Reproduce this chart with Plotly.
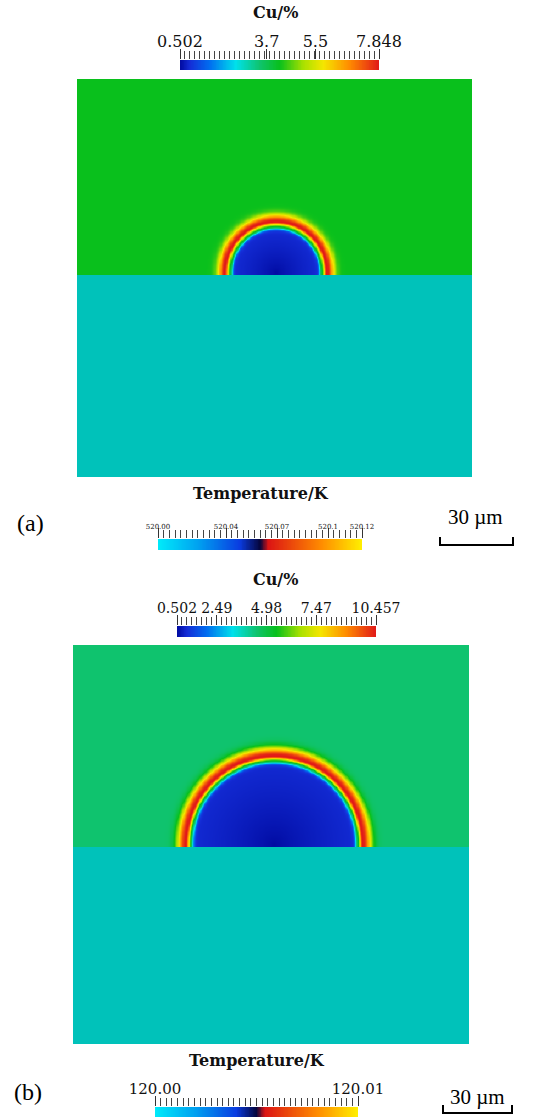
import numpy as np
import plotly.graph_objects as go

FIG_W, FIG_H = 547, 1117

# ------------------------------------------------------------------ data
panel_labels = ["(a)", "(b)"]

cu_title = "Cu/%"
temp_title = "Temperature/K"

cu_ticks_a = [0.502, 3.7, 5.5, 7.848]
cu_ticktext_a = ["0.502", "3.7", "5.5", "7.848"]
cu_ticks_b = [0.502, 2.49, 4.98, 7.47, 10.457]
cu_ticktext_b = ["0.502", "2.49", "4.98", "7.47", "10.457"]

temp_ticks_a = [520.00, 520.04, 520.07, 520.1, 520.12]
temp_ticktext_a = ["520.00", "520.04", "520.07", "520.1", "520.12"]
temp_ticks_b = [120.00, 120.01]
temp_ticktext_b = ["120.00", "120.01"]

# Cu concentration field (wt%) described per panel [a, b], lengths in µm
cu_min = [0.502, 0.502]
cu_max = [7.848, 10.457]
cu_matrix = [4.18, 4.48]
cu_core_rise = [0.35, 0.45]
domain_w = [162.3, 162.8]
domain_h = [163.6, 164.0]
interface_y = [83.0, 81.0]
centre_x = [81.6, 82.6]
centre_dy = [1.2, 1.2]
core_radius = [18.0, 33.3]
ring_radius = [21.0, 36.4]
ring_w_in = [1.3, 1.5]
ring_w_out = [2.9, 3.6]

scale_bar_text = "30 µm"

# ------------------------------------------------------------------ styles
cu_scale = [
    [0.00, "rgb(0,10,160)"],
    [0.05, "rgb(20,45,215)"],
    [0.15, "rgb(0,110,240)"],
    [0.28, "rgb(0,225,235)"],
    [0.40, "rgb(15,195,110)"],
    [0.50, "rgb(8,192,28)"],
    [0.62, "rgb(170,225,0)"],
    [0.72, "rgb(245,230,0)"],
    [0.85, "rgb(255,140,0)"],
    [1.00, "rgb(225,25,25)"],
]
temp_scale = [
    [0.00, "rgb(0,235,250)"],
    [0.20, "rgb(0,160,240)"],
    [0.40, "rgb(10,60,225)"],
    [0.50, "rgb(5,5,60)"],
    [0.54, "rgb(220,20,20)"],
    [0.80, "rgb(255,140,0)"],
    [1.00, "rgb(255,240,0)"],
]
teal = "rgb(0,194,186)"
SERIF = "DejaVu Serif"
TIMES = "Liberation Serif"


def px(xp):
    return xp / FIG_W


def py(yp):
    return 1 - yp / FIG_H


fig = go.Figure()


def cu_field(i):
    step = 0.5
    xs = np.arange(0, domain_w[i] + step, step)
    ys = np.arange(interface_y[i] - step, domain_h[i] + step, step)
    X, Y = np.meshgrid(xs, ys)
    r = np.hypot(X - centre_x[i], Y - (interface_y[i] + centre_dy[i]))
    lo, hi, bg = cu_min[i], cu_max[i], cu_matrix[i]
    core = lo + cu_core_rise[i] * np.clip(r / core_radius[i], 0, 1) ** 0.7
    sig = 1 / (1 + np.exp(-(r - core_radius[i]) / 0.35))
    base = core * (1 - sig) + bg * sig
    d = r - ring_radius[i]
    w = np.where(d < 0, ring_w_in[i], ring_w_out[i])
    z = base + (hi - bg) * np.exp(-((d / w) ** 2))
    z = np.clip(z, lo, hi)
    return xs, ys, np.round(z, 3)


# panel image axes (pixel boxes)
img_boxes = [(77, 472, 79, 477), (73, 469, 645, 1044)]
layout_axes = {}
for i in range(2):
    xs, ys, z = cu_field(i)
    xa = "x" if i == 0 else "x2"
    ya = "y" if i == 0 else "y2"
    fig.add_trace(go.Heatmap(x=xs, y=ys, z=z, colorscale=cu_scale, zmin=cu_min[i],
                             zmax=cu_max[i], zsmooth="best", showscale=False,
                             xaxis=xa, yaxis=ya, hoverinfo="skip"))
    x0, x1, y0, y1 = img_boxes[i]
    kx = "xaxis" if i == 0 else "xaxis2"
    ky = "yaxis" if i == 0 else "yaxis2"
    layout_axes[kx] = dict(domain=[px(x0), px(x1)], range=[0, domain_w[i]], visible=False,
                           anchor=ya, fixedrange=True)
    layout_axes[ky] = dict(domain=[py(y1), py(y0)], range=[0, domain_h[i]], visible=False,
                           anchor=xa, fixedrange=True)
    fig.add_shape(type="rect", xref=xa, yref=ya, x0=0, x1=domain_w[i], y0=0,
                  y1=interface_y[i], fillcolor=teal, line=dict(width=0), layer="above")

# colour bars: (lo, hi, ticks, text, scale, box, fontsize, n_minor)
bars = [
    (cu_min[0], cu_max[0], cu_ticks_a, cu_ticktext_a, cu_scale, (180, 379, 60, 70), 16, 40),
    (temp_ticks_a[0], temp_ticks_a[-1], temp_ticks_a, temp_ticktext_a, temp_scale,
     (158, 362, 539, 550), 7, 36),
    (cu_min[1], cu_max[1], cu_ticks_b, cu_ticktext_b, cu_scale, (177, 376, 626, 637), 14, 40),
    (temp_ticks_b[0], temp_ticks_b[-1], temp_ticks_b, temp_ticktext_b, temp_scale,
     (155, 358, 1107, 1117), 15, 36),
]
for k, (lo, hi, tv, tt, cs, box, fs, nmin) in enumerate(bars):
    n = k + 3
    xa, ya = f"x{n}", f"y{n}"
    vals = np.linspace(lo, hi, 256)
    fig.add_trace(go.Heatmap(x=vals, y=[0], z=[vals], colorscale=cs, zmin=lo, zmax=hi,
                             showscale=False, xaxis=xa, yaxis=ya, hoverinfo="skip"))
    x0, x1, y0, y1 = box
    layout_axes[f"xaxis{n}"] = dict(
        domain=[px(x0), px(x1)], range=[lo, hi], anchor=ya, side="top",
        showgrid=False, zeroline=False, showline=False, fixedrange=True,
        ticks="outside", ticklen=10, tickwidth=1, tickcolor="#333",
        tickmode="array", tickvals=tv, ticktext=tt, tickangle=0, automargin=False,
        tickfont=dict(family=SERIF, size=fs, color="#111"),
        ticklabelstandoff=-4,
        minor=dict(tickmode="array", tickvals=list(np.linspace(lo, hi, nmin + 1)),
                   ticklen=8, tickwidth=1, tickcolor="#444", ticks="outside",
                   showgrid=False),
    )
    layout_axes[f"yaxis{n}"] = dict(domain=[py(y1), py(y0)], range=[-0.5, 0.5],
                                    visible=False, anchor=xa, fixedrange=True)

fig.update_layout(width=FIG_W, height=FIG_H,
                  margin=dict(l=0, r=0, t=0, b=0, pad=0, autoexpand=False),
                  paper_bgcolor="white", plot_bgcolor="white", showlegend=False,
                  **layout_axes)

# titles
title_pos = [(cu_title, 275, 13), (temp_title, 261, 493),
             (cu_title, 275, 579), (temp_title, 257, 1060)]
for txt, xp, yp in title_pos:
    fig.add_annotation(text=f"<b>{txt}</b>", x=px(xp), y=py(yp), xref="paper", yref="paper",
                       showarrow=False, font=dict(family=SERIF, size=16, color="#111"),
                       xanchor="center", yanchor="middle")

# panel labels and scale bars
lab_pos = [(30, 523), (28, 1092)]
sb_text_pos = [(475, 517), (477, 1097)]
sb_geom = [(440, 513, 545, 537), (443, 512, 1113, 1105)]
for i in range(2):
    fig.add_annotation(text=panel_labels[i], x=px(lab_pos[i][0]), y=py(lab_pos[i][1]),
                       xref="paper", yref="paper", showarrow=False,
                       xanchor="center", yanchor="middle",
                       font=dict(family=TIMES, size=24, color="black"))
    fig.add_annotation(text=scale_bar_text, x=px(sb_text_pos[i][0]), y=py(sb_text_pos[i][1]),
                       xref="paper", yref="paper", showarrow=False,
                       xanchor="center", yanchor="middle",
                       font=dict(family=TIMES, size=21, color="black"))
    xa_, xb_, yl, yt = sb_geom[i]
    fig.add_shape(type="path", xref="paper", yref="paper",
                  path=f"M {px(xa_)},{py(yt)} L {px(xa_)},{py(yl)} L {px(xb_)},{py(yl)} L {px(xb_)},{py(yt)}",
                  line=dict(color="black", width=2))

fig.write_html("out.html", config={"displayModeBar": False},
               post_script="document.body.style.margin='0';document.body.style.overflow='hidden';")
